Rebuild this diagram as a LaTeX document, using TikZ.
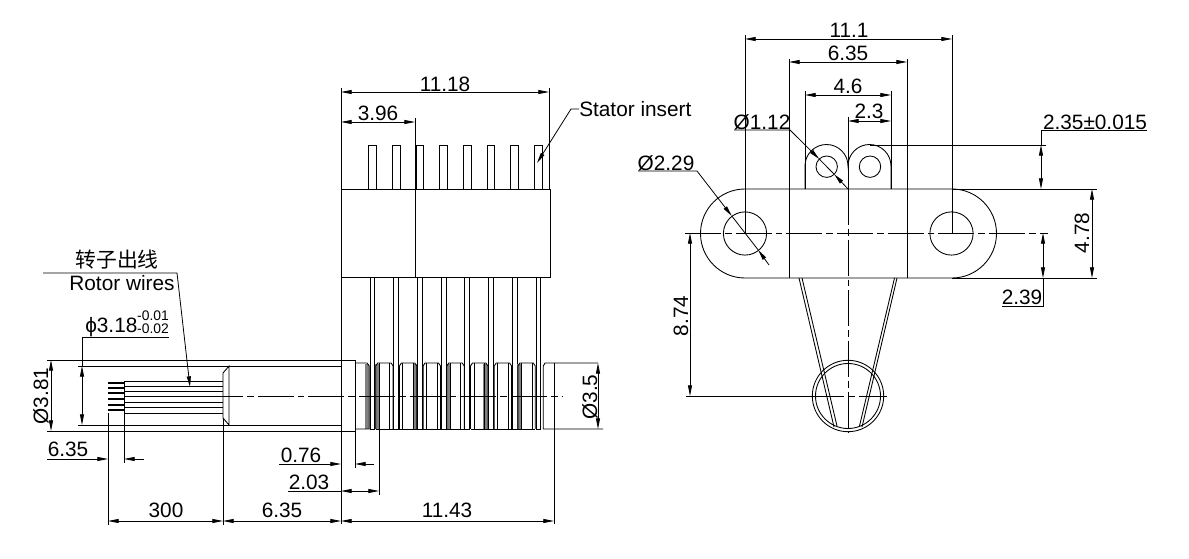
\documentclass[tikz,border=0pt]{standalone}
\usepackage{fontspec}
\setmainfont{Liberation Sans}
\newfontfamily\cjkfont{Noto Sans CJK SC}
\usetikzlibrary{arrows.meta,calc}
\tikzset{
  part/.style={line width=.65pt},
  thin line/.style={line width=.6pt},
  centerline/.style={line width=.6pt,dash pattern=on 27pt off 3pt on 5pt off 3pt},
  dimline/.style={line width=.6pt,{Stealth[length=8pt,width=3pt,inset=0pt]}-{Stealth[length=8pt,width=3pt,inset=0pt]}},
  tipend/.style={line width=.6pt,-{Stealth[length=8pt,width=3pt,inset=0pt]}},
  lbl/.style={inner sep=0pt,font=\fontsize{15.6}{15.6}\selectfont},
  smalllbl/.style={inner sep=0pt,font=\fontsize{10.4}{10.4}\selectfont},
}
\begin{document}
\begin{tikzpicture}[x=.75pt,y=-.75pt]
  \useasboundingbox (0,0) rectangle (1189,559);
  % left view, rotor body
  \draw[part] (47,360) -- (355,360) -- (355,431) -- (47,431);
  \draw[part] (78,366) -- (341,366) (78,425) -- (341,425);
  \draw[part] (229,366) -- (223,373) -- (223,418) -- (229,425) -- cycle;
  % wires
  \foreach \y in {381,386,391,396,402,407,413}
    \draw[part] (124,\y) -- (223,\y);
  \foreach \y in {383,388,393,399,405,410}
    \draw[line width=1.1pt] (108,\y) -- (124,\y);
  \draw[part] (124,381) -- (124,413);
  % stator block and pins
  \draw[part] (341,189) rectangle (550,277);
  \draw[part] (415,118) -- (415,277);
  \foreach \k in {0,...,7} {
    \pgfmathsetmacro\c{372.5+23.7*\k}
    \draw[part] ({\c-3.8},189) -- ({\c-3.8},145) -- ({\c+3.8},145) -- ({\c+3.8},189);
    \draw[part] ({\c-2.4},277) -- ({\c-2.4},429) -- ({\c+2.4},429) -- ({\c+2.4},277);
  }
  % contact rings
  \foreach \a/\b in {365/369.3,374.5/379,413.3/417.3,446.7/450.7,483.3/487.3,517.3/521.7}
    \fill[gray] (\a,364) rectangle (\b,429);
  \foreach \k in {0,...,6} {
    \pgfmathsetmacro\c{375.7+23.7*\k}
    \pgfmathsetmacro\d{\c+17.4}
    \draw[part] (\c,429) -- (\c,366) -- ({\c+2},363) -- ({\d-2},363) -- (\d,366) -- (\d,429);
    \draw[part] (\c,429) -- (\d,429);
    \draw[thin line] ({\c+3.4},363) -- ({\c+3.4},429) ({\d-3.4},363) -- ({\d-3.4},429);
  }
  \draw[part] (355,363) -- (367,363) -- (369.3,366) -- (369.3,429) -- (355,429);
  \draw[part] (598,363) -- (545,363) -- (543.3,366) -- (543.3,429) -- (603,429);
  \draw[part] (554,363) -- (554,524);
  \draw[centerline] (207,396) -- (562,396);
  % left view, dimensions
  \draw[thin line] (341,88) -- (341,524) (549,88) -- (549,189);
  \draw[thin line] (108,413) -- (108,525) (124,413) -- (124,463) (223,418) -- (223,525);
  \draw[thin line] (355,431) -- (355,468) (379,429) -- (379,495);
  \draw[dimline] (341,92) -- (549,92);
  \draw[dimline] (341,122) -- (415,122);
  \draw[dimline] (51,360) -- (51,431);
  \draw[dimline] (82,366) -- (82,425);
  \draw[thin line] (82,366) -- (82,337) -- (169,337);
  \draw[dimline] (108,521) -- (223,521);
  \draw[dimline] (223,521) -- (341,521);
  \draw[dimline] (341,521) -- (554,521);
  \draw[dimline] (341,491) -- (379,491);
  \draw[thin line] (288,491) -- (341,491);
  \draw[tipend] (279,464) -- (341,464);
  \draw[tipend] (374,464) -- (355,464);
  \draw[tipend] (47,459) -- (108,459);
  \draw[tipend] (144,459) -- (124,459);
  \draw[dimline] (598,363) -- (598,429);
  \draw[tipend] (43,273) -- (177,273) -- (190,387);
  \draw[tipend] (579,109) -- (571,109) -- (537,163);
  \node[lbl] (len-stator) at (445,84) {11.18};
  \node[lbl] (len-first) at (378,113) {3.96};
  \node[lbl,anchor=west] (stator) at (579,109) {Stator insert};
  \node[font=\cjkfont\fontsize{15.6}{15.6}\selectfont,inner sep=0pt] (rotor-cn) at (117,260) {转子出线};
  \node[lbl] (rotor-en) at (122,283) {Rotor wires};
  \node[lbl,anchor=base west] (dia-rotor) at (85,333) {ϕ3.18};
  \node[smalllbl] (tol-up) at (153,316) {-0.01};
  \node[smalllbl] (tol-low) at (153,329) {-0.02};
  \node[lbl,rotate=90] (dia-body) at (41,396) {Ø3.81};
  \node[lbl] (len-wire) at (68,449) {6.35};
  \node[lbl] (len-lead) at (166,510) {300};
  \node[lbl] (len-body) at (282,510) {6.35};
  \node[lbl] (len-rings) at (447,510) {11.43};
  \node[lbl] (len-flange) at (301,455) {0.76};
  \node[lbl] (len-ring) at (309,482) {2.03};
  \node[lbl,rotate=90] (dia-rings) at (590,397) {Ø3.5};
  % right view
  \draw[part] (745,189) -- (952,189) arc (-90:90:44.5) -- (745,278) arc (90:270:44.5);
  \draw[part] (952,189) -- (1097,189) (952,278) -- (1097,278);
  \draw[part] (745,233.5) circle (21.6) (951.5,233.5) circle (21.6);
  \draw[part] (805,189) -- (805,166) arc (180:360:21.5) arc (180:360:21.5) -- (891,189);
  \draw[part] (826.7,166.7) circle (10.7) (870,166.7) circle (10.7);
  \draw[part] (848,396) circle (35.7) (848,396) circle (32.5);
  \draw[part] (799,278) -- (834,427) (802,278) -- (837,426);
  \draw[part] (897,278) -- (862,427) (894.5,278) -- (859.5,426);
  \draw[thin line] (745,35) -- (745,233) (952,35) -- (952,233);
  \draw[thin line] (789,59) -- (789,278) (907,59) -- (907,278);
  \draw[thin line] (805,91) -- (805,189) (891,91) -- (891,189);
  \draw[thin line] (848,117) -- (848,189) (870,145) -- (1046,145);
  \draw[thin line] (686,396) -- (808,396);
  \draw[centerline] (848,189) -- (848,433);
  \draw[centerline] (685,233) -- (1048,233);
  \draw[centerline] (808,396) -- (887,396);
  % right view, dimensions
  \draw[dimline] (745,39) -- (952,39);
  \draw[dimline] (789,62) -- (907,62);
  \draw[dimline] (805,95) -- (891,95);
  \draw[dimline] (848,121) -- (891,121);
  \draw[dimline] (1041,145) -- (1041,189);
  \draw[thin line] (1041,145) -- (1041,130) -- (1147,130);
  \draw[dimline] (1092,189) -- (1092,278);
  \draw[dimline] (1043,233) -- (1043,278);
  \draw[thin line] (1043,278) -- (1043,306) -- (1002,306);
  \draw[dimline] (690,233) -- (690,396);
  \draw[tipend] (638,171) -- (697,171) -- (731.8,216);
  \draw[tipend] (769,265) -- (758.2,250);
  \draw[thin line] (731.8,216) -- (758.2,250);
  \draw[tipend] (734,130) -- (790,130) -- (819.2,159);
  \draw[tipend] (848,189) -- (834.2,174.3);
  \draw[thin line] (819.2,159) -- (834.2,174.3);
  \node[lbl] (width-all) at (849,30) {11.1};
  \node[lbl] (width-block) at (848,53) {6.35};
  \node[lbl] (width-tabs) at (848,86) {4.6};
  \node[lbl] (width-tab) at (869,111) {2.3};
  \node[lbl] (dia-small) at (762,122) {Ø1.12};
  \node[lbl] (dia-hole) at (666,163) {Ø2.29};
  \node[lbl] (height-tab) at (1095,122) {2.35±0.015};
  \node[lbl,rotate=90] (height-plate) at (1082,233) {4.78};
  \node[lbl] (height-half) at (1022,297) {2.39};
  \node[lbl,rotate=90] (drop) at (681,316) {8.74};
\end{tikzpicture}
\end{document}
